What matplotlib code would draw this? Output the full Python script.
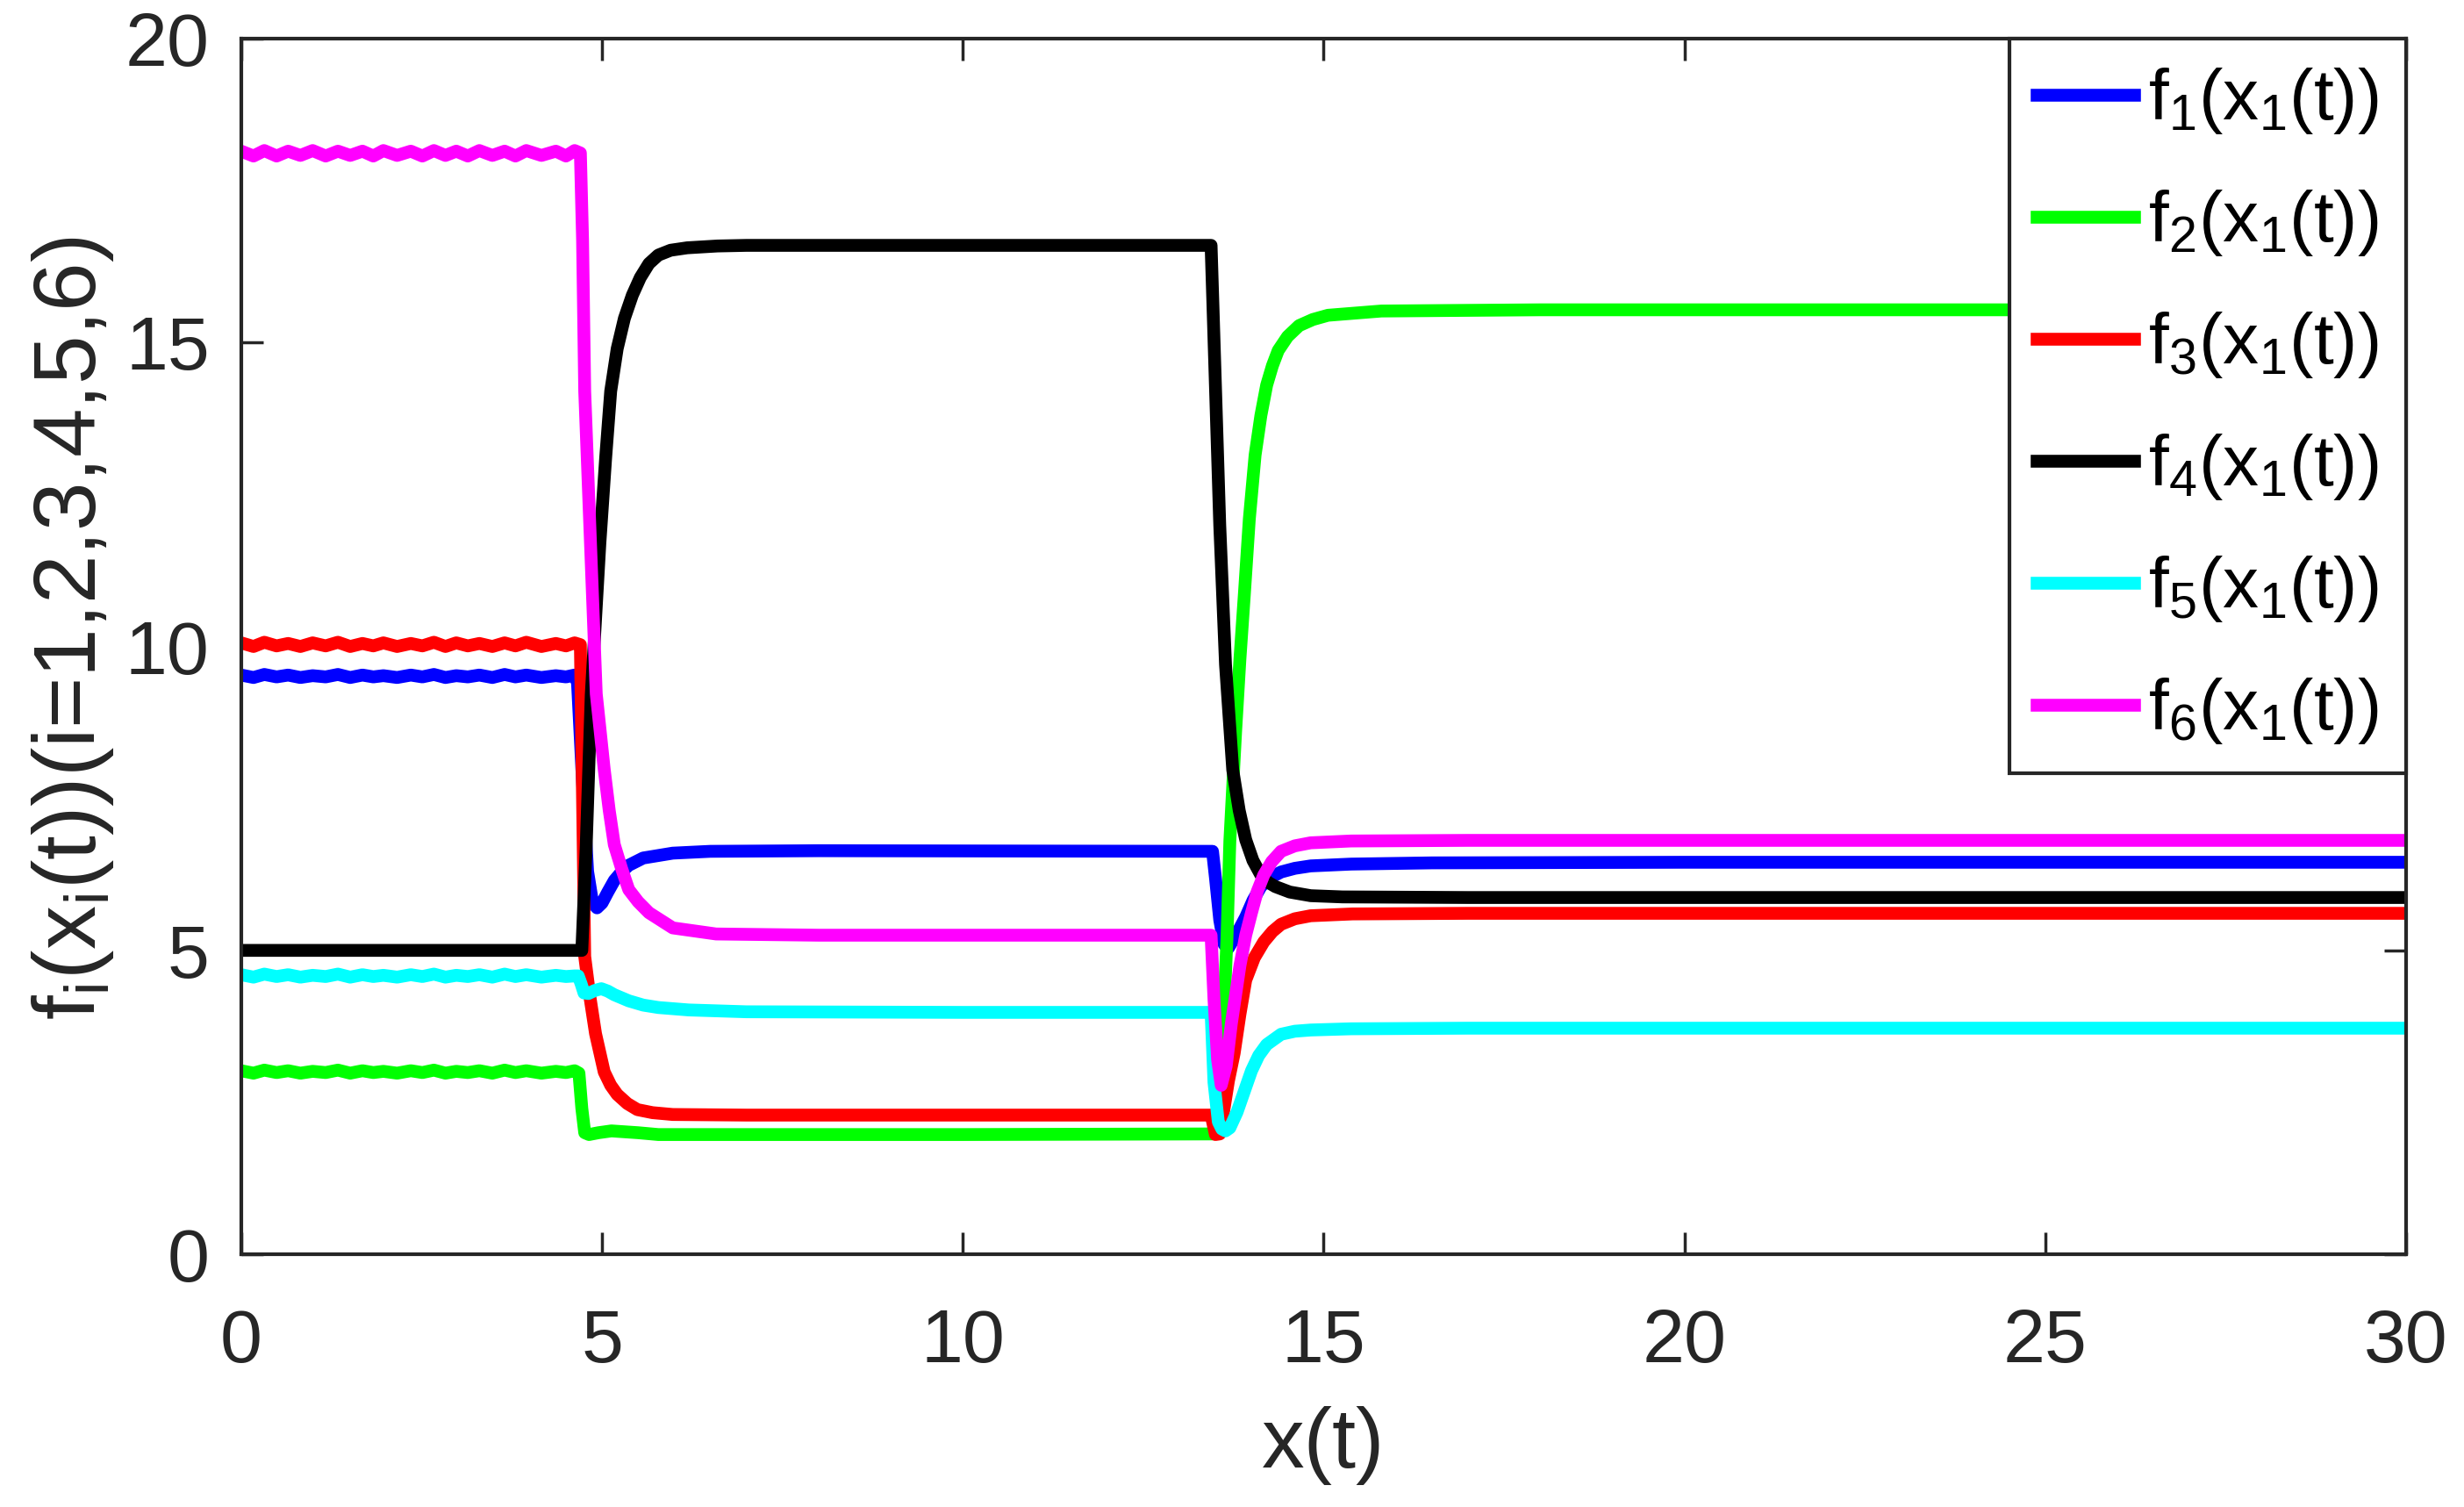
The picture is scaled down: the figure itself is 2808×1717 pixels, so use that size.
import numpy as np
import matplotlib
matplotlib.use('Agg')
import matplotlib.pyplot as plt

# ---------------- data ----------------
t_hold = [0.00, 0.17, 0.32, 0.49, 0.65, 0.82, 0.99, 1.17, 1.34, 1.51, 1.68, 1.83,
          1.97, 2.16, 2.35, 2.51, 2.67, 2.83, 2.98, 3.14, 3.30, 3.48, 3.65, 3.80,
          3.95, 4.16, 4.36, 4.50, 4.62]

f1_hold = [9.53, 9.49, 9.54, 9.50, 9.53, 9.49, 9.52, 9.50, 9.54, 9.49, 9.53, 9.50,
           9.52, 9.49, 9.53, 9.50, 9.54, 9.49, 9.52, 9.50, 9.53, 9.49, 9.54, 9.50,
           9.53, 9.49, 9.52, 9.50, 9.53]
f2_hold = [3.02, 2.98, 3.03, 2.99, 3.02, 2.98, 3.01, 2.99, 3.03, 2.98, 3.02, 2.99,
           3.01, 2.98, 3.02, 2.99, 3.03, 2.98, 3.01, 2.99, 3.02, 2.98, 3.03, 2.99,
           3.02, 2.98, 3.01, 2.99, 3.02]
f3_hold = [10.06, 10.00, 10.07, 10.01, 10.05, 10.00, 10.06, 10.01, 10.07, 10.00, 10.05, 10.01,
           10.06, 10.00, 10.05, 10.01, 10.07, 10.00, 10.06, 10.01, 10.05, 10.00, 10.06, 10.01,
           10.07, 10.00, 10.05, 10.01, 10.06]
f5_hold = [4.60, 4.56, 4.61, 4.57, 4.60, 4.56, 4.59, 4.57, 4.61, 4.56, 4.60, 4.57,
           4.59, 4.56, 4.60, 4.57, 4.61, 4.56, 4.59, 4.57, 4.60, 4.56, 4.61, 4.57,
           4.60, 4.56, 4.59, 4.57, 4.58]
f6_hold = [18.15, 18.07, 18.16, 18.07, 18.15, 18.08, 18.16, 18.07, 18.15, 18.08, 18.15, 18.07,
           18.16, 18.08, 18.15, 18.07, 18.16, 18.08, 18.15, 18.07, 18.16, 18.08, 18.15, 18.07,
           18.16, 18.08, 18.15, 18.07, 18.16]

f1_tx = [4.66, 4.72, 4.80, 4.87, 4.93, 5.00, 5.08, 5.17, 5.27, 5.37, 5.57, 5.98, 6.50, 8.00,
         13.46, 13.50, 13.56, 13.62, 13.68, 13.76, 13.84, 13.92, 14.02, 14.13, 14.25,
         14.41, 14.60, 14.82, 15.38, 16.50, 20.00, 30.00]
f1_ty = [9.40, 8.00, 6.30, 5.78, 5.70, 5.78, 5.96, 6.15, 6.29, 6.40, 6.52, 6.60, 6.63, 6.64,
         6.63, 6.20, 5.50, 5.10, 5.04, 5.20, 5.37, 5.55, 5.82, 6.05, 6.19,
         6.29, 6.35, 6.39, 6.42, 6.44, 6.45, 6.45]

f2_tx = [4.68, 4.72, 4.76, 4.82, 4.95, 5.13, 5.50, 5.78, 7.00, 10.00,
         13.46, 13.53, 13.60, 13.66, 13.70, 13.78, 13.84, 13.90, 13.97, 14.05, 14.13,
         14.21, 14.29, 14.37, 14.50, 14.66, 14.85, 15.06, 15.80, 18.00, 30.00]
f2_ty = [2.98, 2.40, 2.00, 1.97, 2.00, 2.03, 2.00, 1.97, 1.97, 1.97,
         1.98, 2.40, 3.50, 5.20, 6.80, 8.60, 9.80, 10.84, 12.10, 13.15, 13.80,
         14.30, 14.62, 14.87, 15.10, 15.28, 15.38, 15.45, 15.52, 15.54, 15.54]

f3_tx = [4.70, 4.73, 4.76, 4.83, 4.91, 5.03, 5.12, 5.21, 5.35, 5.49, 5.70, 5.98, 7.00,
         13.44, 13.50, 13.56, 13.62, 13.68, 13.76, 13.84, 13.92, 14.04, 14.17, 14.29,
         14.41, 14.60, 14.82, 15.40, 17.00, 30.00]
f3_ty = [10.03, 7.50, 4.90, 4.25, 3.63, 3.00, 2.78, 2.63, 2.48, 2.38, 2.33, 2.30, 2.29,
         2.29, 1.97, 1.98, 2.40, 2.85, 3.31, 3.95, 4.51, 4.88, 5.14, 5.31,
         5.43, 5.52, 5.57, 5.60, 5.61, 5.61]

f4_x = [0.00, 4.72, 4.78, 4.85, 4.97, 5.05, 5.12, 5.21, 5.31, 5.42, 5.53, 5.65, 5.78,
        5.95, 6.18, 6.60, 7.00,
        13.44, 13.50, 13.56, 13.64, 13.74, 13.83, 13.92, 14.02, 14.13, 14.23, 14.33,
        14.53, 14.82, 15.26, 17.00, 30.00]
f4_y = [5.00, 5.00, 6.70, 9.20, 11.70, 13.10, 14.20, 14.90, 15.40, 15.78, 16.07, 16.30, 16.44,
        16.52, 16.56, 16.59, 16.60,
        16.60, 14.30, 12.00, 9.70, 7.97, 7.30, 6.82, 6.48, 6.24, 6.12, 6.05,
        5.96, 5.90, 5.88, 5.87, 5.87]

f5_tx = [4.67, 4.71, 4.75, 4.81, 4.90, 4.99, 5.08, 5.17, 5.37, 5.57, 5.78, 6.20, 7.00, 10.00,
         13.44, 13.48, 13.54, 13.59, 13.64, 13.70, 13.80, 13.90, 14.00, 14.10, 14.21, 14.41,
         14.60, 14.82, 15.38, 17.00, 30.00]
f5_ty = [4.58, 4.45, 4.30, 4.29, 4.34, 4.37, 4.33, 4.27, 4.17, 4.10, 4.06, 4.02, 3.99, 3.98,
         3.98, 2.83, 2.18, 2.06, 2.03, 2.08, 2.34, 2.68, 3.02, 3.27, 3.45, 3.62,
         3.67, 3.69, 3.71, 3.72, 3.72]

f6_tx = [4.70, 4.73, 4.76, 4.84, 4.92, 5.03, 5.10, 5.17, 5.27, 5.37, 5.50, 5.65, 5.98, 6.58, 8.00,
         13.44, 13.48, 13.53, 13.58, 13.65, 13.72, 13.84, 13.92, 14.00, 14.08, 14.17, 14.28,
         14.41, 14.60, 14.82, 15.38, 17.00, 30.00]
f6_ty = [18.12, 16.70, 14.20, 11.70, 9.22, 7.98, 7.30, 6.74, 6.35, 6.00, 5.80, 5.62, 5.37, 5.27, 5.25,
         5.25, 4.20, 3.20, 2.78, 3.10, 3.79, 4.75, 5.25, 5.62, 5.97, 6.24, 6.46,
         6.63, 6.72, 6.77, 6.80, 6.81, 6.81]

labels = ['f$_1$(x$_1$(t))', 'f$_2$(x$_1$(t))', 'f$_3$(x$_1$(t))',
          'f$_4$(x$_1$(t))', 'f$_5$(x$_1$(t))', 'f$_6$(x$_1$(t))']
colors = ['#0000FF', '#00FF00', '#FF0000', '#000000', '#00FFFF', '#FF00FF']
xticks = [0, 5, 10, 15, 20, 25, 30]
yticks = [0, 5, 10, 15, 20]

# ---------------- figure ----------------
plt.rcParams['font.family'] = ['Liberation Sans', 'DejaVu Sans']
plt.rcParams['mathtext.fontset'] = 'custom'
plt.rcParams['mathtext.rm'] = 'Liberation Sans'
plt.rcParams['mathtext.it'] = 'Liberation Sans'
plt.rcParams['mathtext.bf'] = 'Liberation Sans:bold'
plt.rcParams['mathtext.default'] = 'regular'

fig = plt.figure(figsize=(28.08, 17.17), dpi=100)
ax = fig.add_axes([0.0979, 0.1677, 0.8786, 0.8066])

series = [
    (np.concatenate([t_hold, f1_tx]), np.concatenate([f1_hold, f1_ty])),
    (np.concatenate([t_hold, f2_tx]), np.concatenate([f2_hold, f2_ty])),
    (np.concatenate([t_hold, f3_tx]), np.concatenate([f3_hold, f3_ty])),
    (np.array(f4_x), np.array(f4_y)),
    (np.concatenate([t_hold, f5_tx]), np.concatenate([f5_hold, f5_ty])),
    (np.concatenate([t_hold, f6_tx]), np.concatenate([f6_hold, f6_ty])),
]
for (xs, ys), c, lab in zip(series, colors, labels):
    ax.plot(xs, ys, color=c, lw=10.5, label=lab, solid_joinstyle='round')

ax.set_xlim(0, 30)
ax.set_ylim(0, 20)
ax.set_xticks(xticks)
ax.set_yticks(yticks)
ax.set_xticklabels([str(v) for v in xticks])
ax.set_yticklabels([str(v) for v in yticks])

dark = '#262626'
ax.tick_params(direction='in', length=18, width=2.5, top=True, right=True,
               labelsize=62, color=dark, labelcolor=dark)
ax.tick_params(axis='x', pad=44)
ax.tick_params(axis='y', pad=26)
for s in ax.spines.values():
    s.set_linewidth(3)
    s.set_color(dark)

ax.set_xlabel('x(t)', fontsize=70, color=dark, va='top')
ax.xaxis.set_label_coords(0.5, -0.125)
ax.set_ylabel('f$_i$(x$_i$(t))(i=1,2,3,4,5,6)', fontsize=72, color=dark)
ax.yaxis.set_label_coords(-0.058, 0.515)

leg = ax.legend(loc='upper right', fontsize=59, handlelength=1.35,
                handletextpad=0.2, borderpad=0.38, labelspacing=0.72,
                borderaxespad=0, fancybox=False, framealpha=1,
                edgecolor=dark)
leg.get_frame().set_linewidth(3)
leg.set_zorder(10)

fig.savefig('out.png', dpi=100, facecolor='white')
